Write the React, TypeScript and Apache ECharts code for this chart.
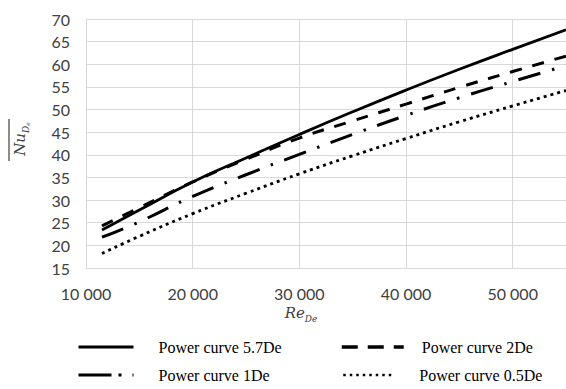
import React, { useEffect, useRef } from "react";
import * as echarts from "echarts";

const reValues = [11500, 15000, 20000, 25000, 30000, 35000, 40000, 45000, 50000, 55000];
const nu57De = [23.4, 27.8, 34.0, 39.3, 44.5, 49.5, 54.3, 58.9, 63.3, 67.6];
const nu2De = [24.3, 28.3, 34.0, 39.0, 43.7, 47.5, 51.2, 54.9, 58.4, 61.8];
const nu1De = [21.8, 25.2, 30.8, 35.6, 40.1, 44.5, 48.7, 52.6, 56.2, 59.7];
const nu05De = [18.2, 22.0, 27.0, 31.5, 35.8, 39.8, 43.6, 47.3, 50.8, 54.2];
const seriesNames = ["Power curve 5.7De", "Power curve 2De", "Power curve 1De", "Power curve 0.5De"];
const xTickLabels: Record<number, string> = {
  10000: "10 000",
  20000: "20 000",
  30000: "30 000",
  40000: "40 000",
  50000: "50 000",
};

const pairs = (ys: number[]) => reValues.map((x, i) => [x, ys[i]]);

export default function App() {
  const ref = useRef<HTMLDivElement>(null);
  useEffect(() => {
    if (!ref.current) return;
    const chart = echarts.init(ref.current, undefined, { renderer: "svg" });
    const legendText = {
      fontFamily: "Liberation Serif",
      fontSize: 16,
      color: "#000",
    };
    const mkLegend = (name: string, left: number, top: number, w: number, pad: number, ls: any) => ({
      data: [{ name, lineStyle: ls, itemStyle: { color: "rgba(0,0,0,0)", borderWidth: 0, opacity: 0 } }],
      left,
      top,
      orient: "horizontal",
      itemWidth: w,
      itemHeight: 14,
      padding: 0,
      selectedMode: false,
      textStyle: { ...legendText, padding: [0, 0, 0, pad] },
    });
    const mkSeries = (name: string, data: number[], type: any, width: number) => ({
      name,
      type: "line",
      data: pairs(data),
      symbol: "none",
      showSymbol: false,
      smooth: true,
      lineStyle: { color: "#000", width, type, cap: "butt" },
      itemStyle: { color: "#000" },
    });
    chart.setOption({
      animation: false,
      grid: { left: 86, top: 19, right: -5, bottom: 121 },
      xAxis: {
        type: "value",
        min: 10000,
        max: 55000,
        interval: 10000,
        axisLine: { show: true, lineStyle: { color: "#d9d9d9", width: 1 } },
        axisTick: { show: false },
        splitLine: { show: true, lineStyle: { color: "#d9d9d9", width: 1 } },
        axisLabel: {
          showMaxLabel: false,
          margin: 17,
          color: "#404040",
          fontFamily: "Lato",
          fontSize: 16,
          formatter: (v: number) => xTickLabels[v] ?? "",
        },
      },
      yAxis: {
        type: "value",
        min: 15,
        max: 70,
        interval: 5,
        axisLine: { show: true, lineStyle: { color: "#d9d9d9", width: 1 } },
        axisTick: { show: false },
        splitLine: { show: true, lineStyle: { color: "#d9d9d9", width: 1 } },
        axisLabel: {
          margin: 16,
          color: "#404040",
          fontFamily: "Lato",
          fontSize: 16,
        },
      },
      legend: [
        mkLegend(seriesNames[0], 77, 339, 55, 20, { color: "#000", width: 3, type: "solid" }),
        mkLegend(seriesNames[1], 340, 339, 62, 13, { color: "#000", width: 3.5, type: [16, 10], cap: "butt" }),
        mkLegend(seriesNames[2], 77, 367, 55, 20, { color: "#000", width: 3, type: [33, 7, 3, 11, 3, 20], cap: "butt" }),
        mkLegend(seriesNames[3], 342, 367, 51, 20, { color: "#000", width: 2.5, type: [2.5, 4], cap: "butt" }),
      ],
      series: [
        mkSeries(seriesNames[0], nu57De, "solid", 2.8),
        mkSeries(seriesNames[1], nu2De, [12, 11], 3),
        mkSeries(seriesNames[2], nu1De, [23, 12, 2.5, 12], 3),
        mkSeries(seriesNames[3], nu05De, [3, 4], 2.8),
      ],
      graphic: [
        {
          type: "text",
          x: 301,
          y: 313,
          style: {
            text: "{a|Re}{b|De}",
            align: "center",
            verticalAlign: "middle",
            fill: "#404040",
            rich: {
              a: { fontFamily: "DejaVu Serif", fontStyle: "italic", fontSize: 15, lineHeight: 20, verticalAlign: "middle", fill: "#404040" },
              b: { fontFamily: "DejaVu Serif", fontStyle: "italic", fontSize: 9, lineHeight: 10, verticalAlign: "bottom", fill: "#404040" },
            },
          },
        },
        {
          type: "text",
          x: 20,
          y: 139,
          rotation: Math.PI / 2,
          style: {
            text: "{a|Nu}{b|D}{c|e}",
            align: "center",
            verticalAlign: "middle",
            fill: "#404040",
            rich: {
              a: { fontFamily: "DejaVu Serif", fontStyle: "italic", fontSize: 15, lineHeight: 20, verticalAlign: "middle", fill: "#404040" },
              b: { fontFamily: "DejaVu Serif", fontStyle: "italic", fontSize: 9, lineHeight: 10, verticalAlign: "bottom", fill: "#404040" },
              c: { fontFamily: "DejaVu Serif", fontStyle: "italic", fontSize: 6, lineHeight: 6, verticalAlign: "bottom", fill: "#404040" },
            },
          },
        },
        {
          type: "line",
          shape: { x1: 9, y1: 119, x2: 9, y2: 161 },
          style: { stroke: "#404040", lineWidth: 1.2 },
        },
      ],
    });
    return () => chart.dispose();
  }, []);
  return <div ref={ref} style={{ width: 566, height: 389, position: "absolute", left: 0, top: 0 }} />;
}
